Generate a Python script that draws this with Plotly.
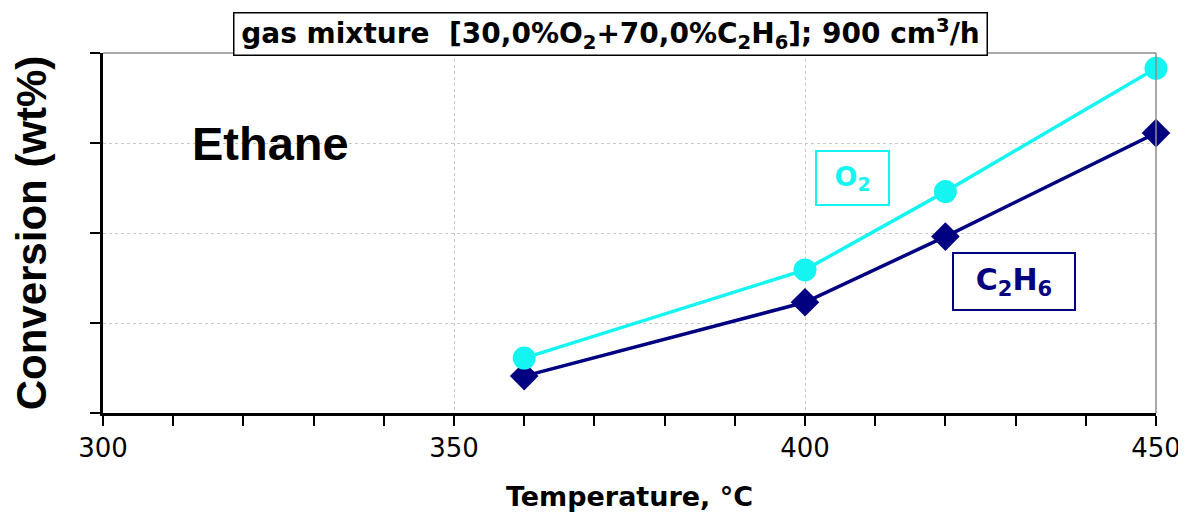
import plotly.graph_objects as go

temps = [360, 400, 420, 450]
o2_conv = [6.1, 15.9, 24.6, 38.3]
c2h6_conv = [4.1, 12.3, 19.6, 31.1]

x_ticks = [300, 350, 400, 450]

FONT = "Liberation Sans, Arial, sans-serif"
WIDE = "DejaVu Sans, Verdana, sans-serif"
CYAN = "#14F5F2"
NAVY = "#000080"

fig = go.Figure()
fig.add_trace(go.Scatter(x=temps, y=c2h6_conv, mode="lines+markers", name="C2H6",
                         line=dict(color=NAVY, width=3.5), cliponaxis=False,
                         marker=dict(symbol="diamond", size=22, color=NAVY)))
fig.add_trace(go.Scatter(x=temps, y=o2_conv, mode="lines+markers", name="O2",
                         line=dict(color=CYAN, width=3.5), cliponaxis=False,
                         marker=dict(symbol="circle", size=23, color=CYAN)))

# page body has an 8px margin; figure is sized so the plot lands where the reference has it
fig.update_layout(
    width=1178, height=505,
    margin=dict(l=95, r=30, t=45, b=100),
    paper_bgcolor="white", plot_bgcolor="white",
    showlegend=False,
    font=dict(family=FONT, color="black"),
    xaxis=dict(range=[300, 450], tickvals=x_ticks, ticktext=[str(v) for v in x_ticks],
               automargin=False,
               showgrid=True, gridcolor="#C8C8C8", griddash="dot", gridwidth=1,
               showline=True, linecolor="black", linewidth=2.5,
               ticks="outside", ticklen=10, tickwidth=2, tickcolor="black",
               minor=dict(dtick=10, ticks="outside", ticklen=10, tickwidth=2, tickcolor="black", showgrid=False),
               tickfont=dict(size=26, family=WIDE), zeroline=False,
               title=dict(text="<b>Temperature, °C</b>",
                          font=dict(size=27, family=WIDE), standoff=26)),
    yaxis=dict(range=[0, 40], dtick=10, showticklabels=False, automargin=False,
               showgrid=True, gridcolor="#C8C8C8", griddash="dot", gridwidth=1,
               showline=True, linecolor="black", linewidth=2.5,
               ticks="outside", ticklen=10, tickwidth=2, tickcolor="black", zeroline=False,
               title=dict(text="<b>Conversion (wt%)</b>", font=dict(size=42, family=FONT), standoff=32)),
)

# top and right gray border
fig.add_shape(type="line", xref="paper", yref="paper", x0=0, x1=1, y0=1, y1=1,
              line=dict(color="#8C8C8C", width=1.5))
fig.add_shape(type="line", xref="paper", yref="paper", x0=1, x1=1, y0=0, y1=1,
              line=dict(color="#8C8C8C", width=1.5))

fig.add_annotation(xref="paper", yref="paper", x=0.4822, y=1.0528, xanchor="center", yanchor="middle",
                   text="<b>gas mixture  [30,0%O<sub>2</sub>+70,0%C<sub>2</sub>H<sub>6</sub>]; 900 cm<sup>3</sup>/h</b>",
                   showarrow=False, font=dict(size=28, family=WIDE, color="black"),
                   width=752, height=41,
                   bordercolor="black", borderwidth=1.5, borderpad=0, bgcolor="white")

fig.add_annotation(xref="paper", yref="paper", x=0.0826, y=0.75, xanchor="left", yanchor="middle",
                   text="<b>Ethane</b>", showarrow=False,
                   font=dict(size=47, family=FONT, color="black"))

fig.add_annotation(xref="paper", yref="paper", x=0.7117, y=0.6528, xanchor="center", yanchor="middle",
                   text="<b>O<sub>2</sub></b>", showarrow=False,
                   font=dict(size=27, family=WIDE, color=CYAN),
                   width=71, height=52,
                   bordercolor=CYAN, borderwidth=2, borderpad=0, bgcolor="white")

fig.add_annotation(xref="paper", yref="paper", x=0.8651, y=0.3653, xanchor="center", yanchor="middle",
                   text="<b>C<sub>2</sub>H<sub>6</sub></b>", showarrow=False,
                   font=dict(size=30, family=WIDE, color=NAVY),
                   width=120, height=55,
                   bordercolor=NAVY, borderwidth=2, borderpad=0, bgcolor="white")

fig.write_html("out.html")
